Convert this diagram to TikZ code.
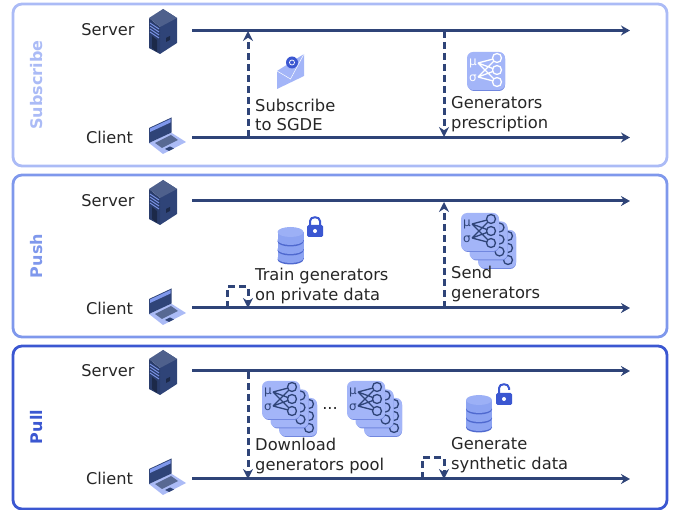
\documentclass[tikz,border=0pt]{standalone}
\usepackage{fontspec}
\setmainfont{DejaVu Sans}
\usetikzlibrary{arrows.meta}
\definecolor{lineblue}{HTML}{2F4478}
\definecolor{subblue}{HTML}{ABBBF6}
\definecolor{pushblue}{HTML}{7F98EC}
\definecolor{pullblue}{HTML}{3B57D1}
\definecolor{iconblue}{HTML}{A3B5F8}
\definecolor{discblue}{HTML}{8CA3F2}
\definecolor{banddark}{HTML}{4F69CF}
\tikzset{
panel/.style={draw,line width=2.8pt,rounded corners=9pt},
timeline/.style={lineblue,line width=3pt,-{Stealth[length=9pt,width=10pt]}},
msg/.style={lineblue,line width=3pt,dash pattern=on 7pt off 4pt,-{Stealth[length=10pt,width=10pt]}},
actor/.style={font=\fontsize{16.2}{19}\selectfont,text=black!85,inner sep=0pt},
lbl/.style={font=\fontsize{16.3}{19.5}\selectfont,text=black!85,inner sep=0pt,align=left,anchor=west},
title/.style={font=\fontsize{16}{19}\selectfont\bfseries,rotate=90,inner sep=0pt},
pics/serverpic/.style={code={
\fill[lineblue] (0,-23) -- (14,-14) -- (14,11) -- (-3,22) -- (-3,-5) -- cycle;
\fill[lineblue!90!black] (-14,-14) -- (-3,-5) -- (-3,22) -- (-14,16) -- cycle;
\fill[lineblue!85!white] (0,-23) -- (14,-14) -- (-3,-5) -- (-14,-14) -- cycle;
\draw[pushblue,line width=0.9pt] (-13,-9) -- (-4,-3) (-13,-6) -- (-4,0) (-13,-3) -- (-4,3) (-13,0) -- (-4,6);
\fill[lineblue!60!black] (-11,4) -- (-6,8) -- (-6,20) -- (-11,16) -- cycle;
\fill[lineblue!60!black] (3,6) -- (7,4) -- (7,8) -- (3,10) -- cycle;
}},
pics/laptoppic/.style={code={
\fill[subblue] (-18,6) -- (4,-4.5) -- (19,5) -- (-4,17) -- cycle;
\fill[lineblue] (-18,6) -- (-18,-9) -- (4.5,-19.5) -- (4.5,-4.5) -- cycle;
\fill[pushblue] (-17,-5) -- (-17,-8.5) -- (3.5,-18) -- (3.5,-14.5) -- cycle;
\fill[lineblue!80!white] (-12,6) -- (4,-2) -- (11,3) -- (-5,11) -- cycle;
\fill[lineblue] (-2,12) -- (3,9.5) -- (7,11.5) -- (2,14) -- cycle;
}},
pics/envelopepic/.style={code={
\fill[iconblue] (-13.5,5) -- (13.5,-12) -- (13.5,10) -- (-13.5,23) -- cycle;
\draw[white,line width=0.5pt] (-13.5,5) -- (0,13) -- (13.5,-12);
\fill[pullblue] (1.5,-3.5) circle (6pt);
\draw[white,line width=0.7pt] (1.5,-3.5) circle (2.5pt);
}},
pics/nnet/.style={code={
\fill[banddark!60!iconblue,rounded corners=6pt] (-18,-18) rectangle (19,20);
\fill[iconblue,rounded corners=6pt] (-19,-19) rectangle (19,19);
\draw[#1,line width=1.3pt]
(-8,-8) -- (11,-13) (-8,-8) -- (11,-1) (-8,-8) -- (11,11)
(-8,6) -- (11,-13) (-8,6) -- (11,-1) (-8,6) -- (11,11);
\draw[#1,line width=1.3pt,fill=iconblue] (11,-13) circle (4.5pt) (11,-1) circle (4.5pt) (11,11) circle (4.5pt);
\node[text=#1,font=\fontsize{12}{12}\selectfont,inner sep=0pt] at (-13,-8) {μ};
\node[text=#1,font=\fontsize{12}{12}\selectfont,inner sep=0pt] at (-13,7) {σ};
}},
pics/stackpic/.style={code={
\pic at (17,17) {nnet=lineblue};
\pic at (8.5,8.5) {nnet=lineblue};
\pic at (0,0) {nnet=lineblue};
}},
pics/dbdisc/.style={code={
\fill[banddark] (-13,0) rectangle (13,9.5);
\fill[banddark] (0,9.5) ellipse [x radius=13pt,y radius=5pt];
\fill[discblue] (-13,0) rectangle (13,8);
\fill[discblue] (0,8) ellipse [x radius=13pt,y radius=5pt];
\fill[iconblue!70!discblue] (0,0) ellipse [x radius=13pt,y radius=5pt];
}},
pics/dbpic/.style={code={
\pic at (0,5) {dbdisc};
\pic at (0,-4) {dbdisc};
\pic at (0,-13) {dbdisc};
}},
pics/lockpic/.style={code={
\fill[pullblue,rounded corners=1.5pt] (-8,-2) rectangle (8,10);
\draw[pullblue,line width=2pt] (-5,-2) -- (-5,-6) .. controls (-5,-11) and (5,-11) .. (5,-6) -- (5,-2);
\fill[white] (0,4) circle (2pt);
}},
pics/openlockpic/.style={code={
\fill[pullblue,rounded corners=1.5pt] (-8,-1) rectangle (8,11);
\draw[pullblue,line width=2pt] (-5,-1) -- (-5,-6) .. controls (-5,-11) and (5,-11) .. (5,-6) -- (5,-4);
\fill[white] (0,5) circle (2pt);
}}
}
\begin{document}
\begin{tikzpicture}[x=1pt,y=-1pt]
\useasboundingbox (0,0) rectangle (675,510);
% subscribe
\node[panel,subblue,minimum width=654pt,minimum height=162pt,inner sep=0pt](subbox) at (340,85){};
\node[title,subblue](subtitle) at (37,85){Subscribe};
\node[actor](subserver) at (108,30){Server};
\node[actor](subclient) at (109.5,137){Client};
\pic (subsrv) at (163,32) {serverpic};
\pic (sublap) at (167,137) {laptoppic};
\coordinate (subA) at (192,30.5);
\coordinate (subB) at (630,30.5);
\coordinate (subC) at (192,137.5);
\coordinate (subD) at (630,137.5);
\draw[timeline] (subA) -- (subB);
\draw[timeline] (subC) -- (subD);
\coordinate (subE) at (248,137);
\coordinate (subF) at (248,31);
\coordinate (subG) at (444,31);
\coordinate (subH) at (444,137);
\draw[msg] (subE) -- (subF);
\draw[msg] (subG) -- (subH);
\pic (submail) at (290.5,66) {envelopepic};
\pic (subnet) at (486,71) {nnet=white};
\node[lbl](sublabel) at (255,115){Subscribe\\to SGDE};
\node[lbl](genlabel) at (451,114){Generators\\prescription};
% push
\node[panel,pushblue,minimum width=654pt,minimum height=162pt,inner sep=0pt](pushbox) at (340,256){};
\node[title,pushblue](pushtitle) at (37,256){Push};
\node[actor](pushserver) at (108,201){Server};
\node[actor](pushclient) at (109.5,308){Client};
\pic (pushsrv) at (163,203) {serverpic};
\pic (pushlap) at (167,308) {laptoppic};
\coordinate (pushA) at (192,201);
\coordinate (pushB) at (630,201);
\coordinate (pushC) at (192,308);
\coordinate (pushD) at (630,308);
\draw[timeline] (pushA) -- (pushB);
\draw[timeline] (pushC) -- (pushD);
\coordinate (pushE) at (227,308);
\coordinate (pushF) at (248,308);
\draw[msg] (pushE) -- ++(0,-21) -| (pushF);
\coordinate (pushG) at (444,308);
\coordinate (pushH) at (444,202);
\draw[msg] (pushG) -- (pushH);
\pic (pushdb) at (290.5,245) {dbpic};
\pic (pushlock) at (315,227) {lockpic};
\pic (pushnet) at (480,232) {stackpic};
\node[lbl](trainlabel) at (255,286){Train generators\\on private data};
\node[lbl](sendlabel) at (451,284){Send\\generators};
% pull
\node[panel,pullblue,minimum width=654pt,minimum height=163pt,inner sep=0pt](pullbox) at (340,427.5){};
\node[title,pullblue](pulltitle) at (37,427){Pull};
\node[actor](pullserver) at (108,371){Server};
\node[actor](pullclient) at (109.5,478){Client};
\pic (pullsrv) at (163,373) {serverpic};
\pic (pulllap) at (167,478) {laptoppic};
\coordinate (pullA) at (192,371);
\coordinate (pullB) at (630,371);
\coordinate (pullC) at (192,479);
\coordinate (pullD) at (630,479);
\draw[timeline] (pullA) -- (pullB);
\draw[timeline] (pullC) -- (pullD);
\coordinate (pullE) at (248,372);
\coordinate (pullF) at (248,479);
\draw[msg] (pullE) -- (pullF);
\coordinate (pullG) at (422,479);
\coordinate (pullH) at (444,479);
\draw[msg] (pullG) -- ++(0,-21) -| (pullH);
\pic (pullnetA) at (281,400) {stackpic};
\pic (pullnetB) at (366,400) {stackpic};
\node[actor](pulldots) at (330,408){...};
\pic (pulldb) at (479,413) {dbpic};
\pic (pulllock) at (504,394) {openlockpic};
\node[lbl](downlabel) at (255,456){Download\\generators pool};
\node[lbl](synthlabel) at (451,455){Generate\\synthetic data};
\end{tikzpicture}
\end{document}
